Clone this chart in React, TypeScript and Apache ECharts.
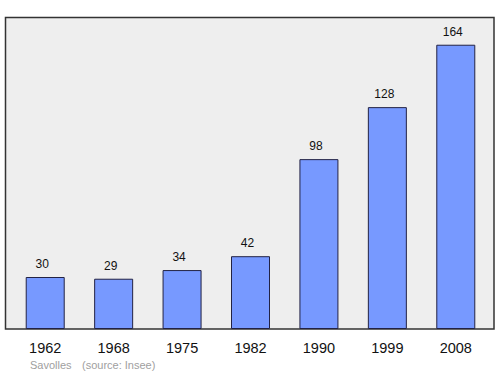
import React, { useEffect, useRef } from "react";
import * as echarts from "echarts";

const years = ["1962", "1968", "1975", "1982", "1990", "1999", "2008"];
const population = [30, 29, 34, 42, 98, 128, 164];
const footerName = "Savolles";
const footerSource = "(source: Insee)";

export default function App() {
  const ref = useRef<HTMLDivElement>(null);
  useEffect(() => {
    const chart = echarts.init(ref.current!, undefined, { renderer: "svg" });
    chart.setOption({
      animation: false,
      textStyle: { fontFamily: "Liberation Sans, Arial, sans-serif" },
      graphic: [
        {
          type: "rect",
          shape: { x: 5.5, y: 17.5, width: 488.5, height: 311.5 },
          style: { fill: "#eeeeee", stroke: "#333333", lineWidth: 1.5 },
          z: -10,
          silent: true,
        },
        {
          type: "text",
          x: 30,
          y: 365,
          style: { text: footerName, fill: "#a0a0a0", font: "11px 'Liberation Sans', Arial, sans-serif", verticalAlign: "middle" },
        },
        {
          type: "text",
          x: 82,
          y: 365,
          style: { text: footerSource, fill: "#a0a0a0", font: "11px 'Liberation Sans', Arial, sans-serif", verticalAlign: "middle" },
        },
      ],
      grid: { left: 11, right: 10, top: 17, bottom: 45 },
      xAxis: {
        type: "category",
        data: years,
        axisLine: { show: false },
        axisTick: { show: false },
        axisLabel: { color: "#111", fontSize: 14.5, margin: 11, fontFamily: "Liberation Sans, Arial, sans-serif" },
      },
      yAxis: {
        type: "value",
        min: 0,
        max: 180,
        show: false,
        splitLine: { show: false },
      },
      series: [
        {
          type: "bar",
          data: population,
          barWidth: 39,
          itemStyle: { color: "#7799ff", borderColor: "#222244", borderWidth: 1 },
          label: {
            show: true,
            position: "top",
            distance: 7,
            offset: [-3, 0],
            color: "#111",
            fontSize: 12,
            fontFamily: "Liberation Sans, Arial, sans-serif",
          },
        },
      ],
    });
    return () => chart.dispose();
  }, []);
  return <div ref={ref} style={{ width: 500, height: 374, position: "absolute", left: 0, top: 0, background: "#fff" }} />;
}
